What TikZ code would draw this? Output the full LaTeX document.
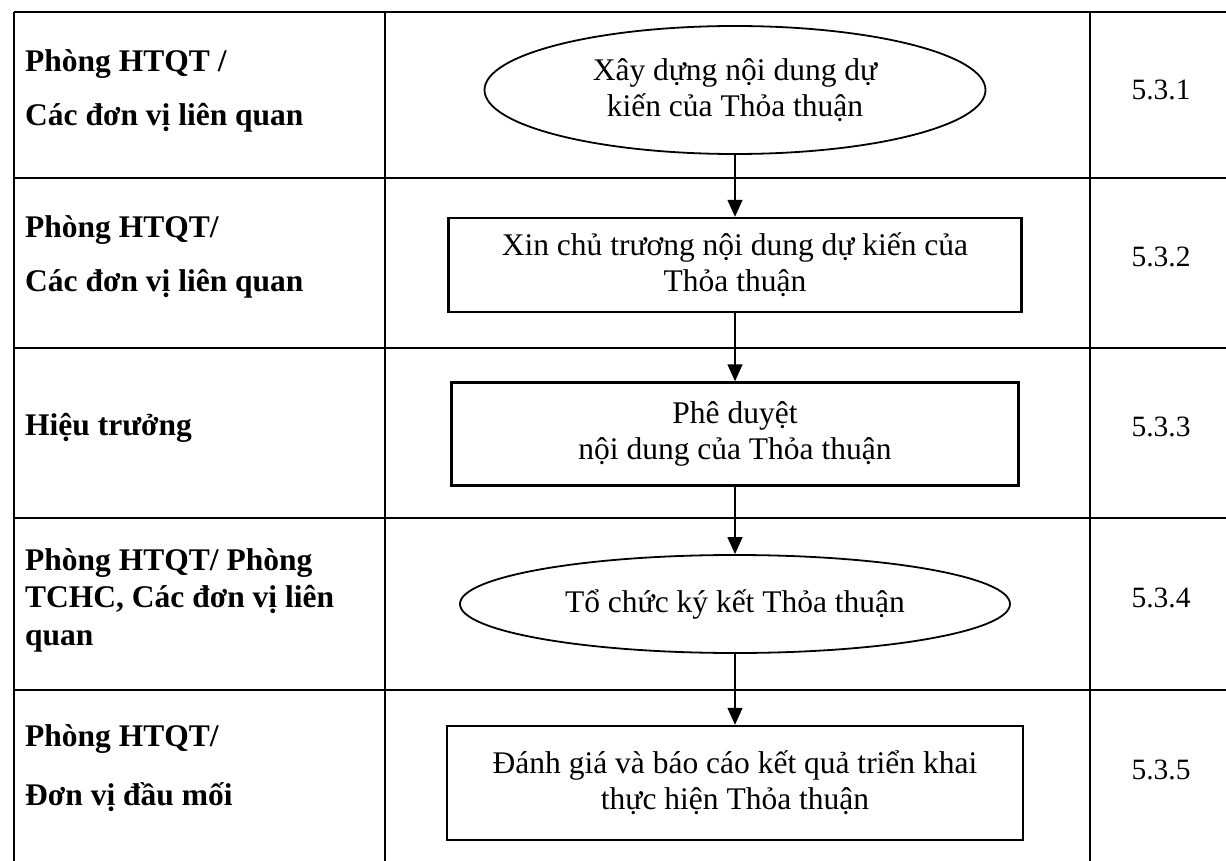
\documentclass[tikz,border=0pt]{standalone}
\usepackage{fontspec}
\setmainfont{Liberation Serif}
\usetikzlibrary{shapes.geometric,arrows.meta}

\tikzset{
  grid/.style={line width=1.6pt},
  stepbox/.style={draw, line width=2.4pt, align=center, inner sep=0pt,
    font=\fontsize{31.5}{36}\selectfont},
  stepoval/.style={ellipse, draw, line width=1.8pt, align=center, inner sep=0pt,
    font=\fontsize{31.5}{36}\selectfont},
  flow/.style={line width=1.4pt, -{Triangle[length=17pt,width=15pt]}},
  role/.style={anchor=west, align=left, inner sep=0pt,
    font=\fontsize{31.5}{37.5}\selectfont\bfseries},
  code/.style={inner sep=0pt, font=\fontsize{29.5}{36}\selectfont},
}

\begin{document}
\begin{tikzpicture}[x=1pt, y=-1pt]
  \useasboundingbox (0,0) rectangle (1226,861);

  % table
  \foreach \y in {12,178,348,518,690}
    \draw[grid] (14,\y) -- (1226,\y);
  \foreach \x in {14,385,1090}
    \draw[grid] (\x,12) -- (\x,861);

  % who
  \node[role] (r1) at (25,91) {Phòng HTQT /\\[17pt]Các đơn vị liên quan};
  \node[role] (r2) at (25,257) {Phòng HTQT/\\[17pt]Các đơn vị liên quan};
  \node[role] (r3) at (25,428) {Hiệu trưởng};
  \node[role] (r4) at (25,600) {Phòng HTQT/ Phòng\\TCHC, Các đơn vị liên\\quan};
  \node[role] (r5) at (25,768) {Phòng HTQT/\\[22pt]Đơn vị đầu mối};

  % steps
  \node[stepoval, minimum width=501pt, minimum height=128pt] (1) at (735,90)
    {Xây dựng nội dung dự\\kiến của Thỏa thuận};
  \node[stepbox, minimum width=573pt, minimum height=94pt] (2) at (735,265)
    {Xin chủ trương nội dung dự kiến của\\Thỏa thuận};
  \node[stepbox, minimum width=567pt, minimum height=103pt] (3) at (735,434)
    {Phê duyệt\\nội dung của Thỏa thuận};
  \node[stepoval, minimum width=550pt, minimum height=98pt] (4) at (735,604)
    {Tổ chức ký kết Thỏa thuận};
  \node[stepbox, minimum width=576pt, minimum height=114pt] (5) at (735,783)
    {Đánh giá và báo cáo kết quả triển khai\\thực hiện Thỏa thuận};

  \path (1) edge[flow] (2);
  \path (2) edge[flow] (3);
  \path (3) edge[flow] (4);
  \path (4) edge[flow] (5);

  % numbers
  \node[code] (c1) at (1161,90) {5.3.1};
  \node[code] (c2) at (1161,257) {5.3.2};
  \node[code] (c3) at (1161,427) {5.3.3};
  \node[code] (c4) at (1161,598) {5.3.4};
  \node[code] (c5) at (1161,770) {5.3.5};
\end{tikzpicture}
\end{document}
